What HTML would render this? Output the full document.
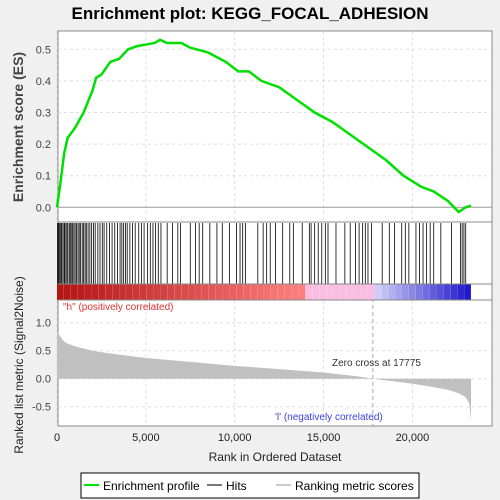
<!DOCTYPE html>
<html><head><meta charset="utf-8"><style>
body{margin:0;background:#f0f0f0;}
svg{display:block;font-family:"Liberation Sans",sans-serif;}
</style></head><body>
<svg id="chart" width="500" height="500" xmlns="http://www.w3.org/2000/svg">
<rect x="0" y="0" width="500" height="500" fill="#f0f0f0"/>
<text x="250" y="19" text-anchor="middle" font-size="17" font-weight="bold" fill="#000">Enrichment plot: KEGG_FOCAL_ADHESION</text>
<rect x="58" y="31" width="434" height="395" fill="#fff" stroke="#888"/>
<g id="grid"></g>
<g id="es"></g>
<g id="hits"></g>
<g id="cbar"></g>
<g id="metric"></g>
<line x1="58" y1="222" x2="492" y2="222" stroke="#888"/>
<line x1="58" y1="284" x2="492" y2="284" stroke="#888"/>
<line x1="58" y1="300" x2="492" y2="300" stroke="#888"/>
<text x="63" y="310" font-size="10" fill="#e03030">"h" (positively correlated)</text>
<text x="275" y="420" font-size="10" fill="#4040e0">'l' (negatively correlated)</text>
<text x="332" y="366" font-size="10" fill="#333">Zero cross at 17775</text>
<g id="axes"></g>
<text x="23" y="127" font-size="14" font-weight="bold" fill="#444" text-anchor="middle" transform="rotate(-90 23 127)">Enrichment score (ES)</text>
<text x="23" y="365" font-size="12" fill="#222" text-anchor="middle" transform="rotate(-90 23 365)">Ranked list metric (Signal2Noise)</text>
<text x="275" y="461" font-size="12" fill="#222" text-anchor="middle">Rank in Ordered Dataset</text>
<g>
<rect x="81" y="473" width="338" height="25" fill="#fff" stroke="#000"/>
<line x1="84" y1="485" x2="99" y2="485" stroke="#00e000" stroke-width="2"/>
<text x="103" y="490" font-size="12" fill="#000">Enrichment profile</text>
<line x1="207" y1="485" x2="222" y2="485" stroke="#777" stroke-width="2"/>
<text x="226" y="490" font-size="12" fill="#000">Hits</text>
<line x1="276" y1="485" x2="291" y2="485" stroke="#ccc" stroke-width="2"/>
<text x="295" y="490" font-size="12" fill="#000">Ranking metric scores</text>
</g>
</svg>
<script>
const esRanks=[0,200,400,600,1000,1500,2000,2200,2500,3000,3500,4000,4500,5000,5500,5800,6200,7000,7500,8500,9500,10200,10800,11500,12500,13500,14500,15500,16500,17500,18500,19500,20500,21200,22000,22600,23000,23300];
const esValues=[0,0.08,0.17,0.22,0.25,0.30,0.37,0.41,0.42,0.46,0.47,0.50,0.51,0.515,0.52,0.53,0.52,0.52,0.505,0.49,0.46,0.43,0.43,0.40,0.38,0.34,0.30,0.27,0.23,0.19,0.15,0.10,0.065,0.05,0.02,-0.015,0,0.005];
const hitRanks=[30,90,150,210,260,330,400,450,520,600,680,740,800,880,950,1020,1100,1180,1250,1330,1420,1500,1580,1650,1750,1850,1950,2050,2150,2300,2420,2550,2650,2800,2950,3100,3250,3400,3550,3650,3750,3850,3950,4100,4250,4400,4600,4750,4900,5100,5250,5400,5550,5700,5850,6200,6500,6800,6950,7500,7800,8000,8200,8600,9000,9300,9700,10100,10300,10450,10600,11300,11600,11800,12000,12300,12700,13100,13300,13800,14200,14300,14500,14700,14900,15100,15250,15700,16200,16500,16800,17000,17200,17350,17500,17700,18300,18700,19000,19400,19600,19800,20200,20400,20600,20800,21000,21200,21600,22200,22700,22800,22900,23000];
const metricRanks=[0,100,300,500,1000,2000,3000,5000,7500,10000,12500,15000,17000,17775,19000,20000,21000,22000,22600,23000,23200,23300];
const metricValues=[0.9,0.8,0.7,0.64,0.58,0.5,0.45,0.37,0.3,0.23,0.17,0.11,0.04,0,-0.05,-0.09,-0.14,-0.2,-0.26,-0.33,-0.45,-0.75];
const esTicks=[0,0.1,0.2,0.3,0.4,0.5];
const metricTicks=[-0.5,0,0.5,1.0];
const xTicks=[0,5000,10000,15000,20000];
const NS="http://www.w3.org/2000/svg";
const X=r=>57+r*0.01777, YE=v=>207.3-v*316, YM=v=>378.7-v*56;
function mk(p,t,a){const e=document.createElementNS(NS,t);for(const k in a)e.setAttribute(k,a[k]);document.getElementById(p).appendChild(e);return e;}
xTicks.forEach(t=>{
 const g1=mk('grid','line',{x1:X(t),x2:X(t),y1:31,y2:222,stroke:'#ddd','stroke-dasharray':'3,3'});
 const g2=mk('grid','line',{x1:X(t),x2:X(t),y1:300,y2:426,stroke:'#ddd','stroke-dasharray':'3,3'});
 const tx=mk('axes','text',{x:X(t),y:441,'font-size':11,'text-anchor':'middle',fill:'#222'});
 tx.textContent=t.toLocaleString('en-US');
 
 
});
esTicks.forEach(t=>{
 mk('grid','line',{x1:58,x2:492,y1:YE(t),y2:YE(t),stroke:t===0?'#999':'#ddd','stroke-dasharray':t===0?'':'3,3'});
 const tx=mk('axes','text',{x:51,y:YE(t)+4,'font-size':11,'text-anchor':'end',fill:'#444'});
 tx.textContent=t.toFixed(1);
 
 
});
metricTicks.forEach(t=>{
 mk('grid','line',{x1:58,x2:492,y1:YM(t),y2:YM(t),stroke:'#ddd','stroke-dasharray':'3,3'});
 const tx=mk('axes','text',{x:51,y:YM(t)+4,'font-size':11,'text-anchor':'end',fill:'#444'});
 tx.textContent=t.toFixed(1);
 
 
});
mk('grid','line',{x1:X(17775),x2:X(17775),y1:284,y2:426,stroke:'#aaa','stroke-dasharray':'4,3'});
const es=mk('es','polyline',{points:esRanks.map((r,i)=>X(r)+','+YE(esValues[i])).join(' '),fill:'none',stroke:'#00e000','stroke-width':2.5});


hitRanks.forEach(r=>{
 const l=mk('hits','line',{x1:X(r),x2:X(r),y1:223,y2:284,stroke:'#000','stroke-width':0.8});
 
 
});
const N=60;
for(let i=0;i<N;i++){
 const f=i/N;let c;
 if(f<0.6){const t=f/0.6;c=`rgb(${Math.round(180+75*t)},${Math.round(20+110*t)},${Math.round(20+110*t)})`;}
 else if(f<0.76){c='rgb(250,190,225)';}
 else{const t=(f-0.76)/0.24;c=`rgb(${Math.round(210-190*t)},${Math.round(210-200*t)},${Math.round(245-45*t)})`;}
 mk('cbar','rect',{x:X(f*23300),y:284,width:434/N*0.8+1,height:16,fill:c});
}
const pts=[X(0)+','+YM(0)].concat(metricRanks.map((r,i)=>X(r)+','+YM(metricValues[i]))).concat([X(23300)+','+YM(0)]);
const m=mk('metric','polygon',{points:pts.join(' '),fill:'#c0c0c0'});


</script>
</body></html>
